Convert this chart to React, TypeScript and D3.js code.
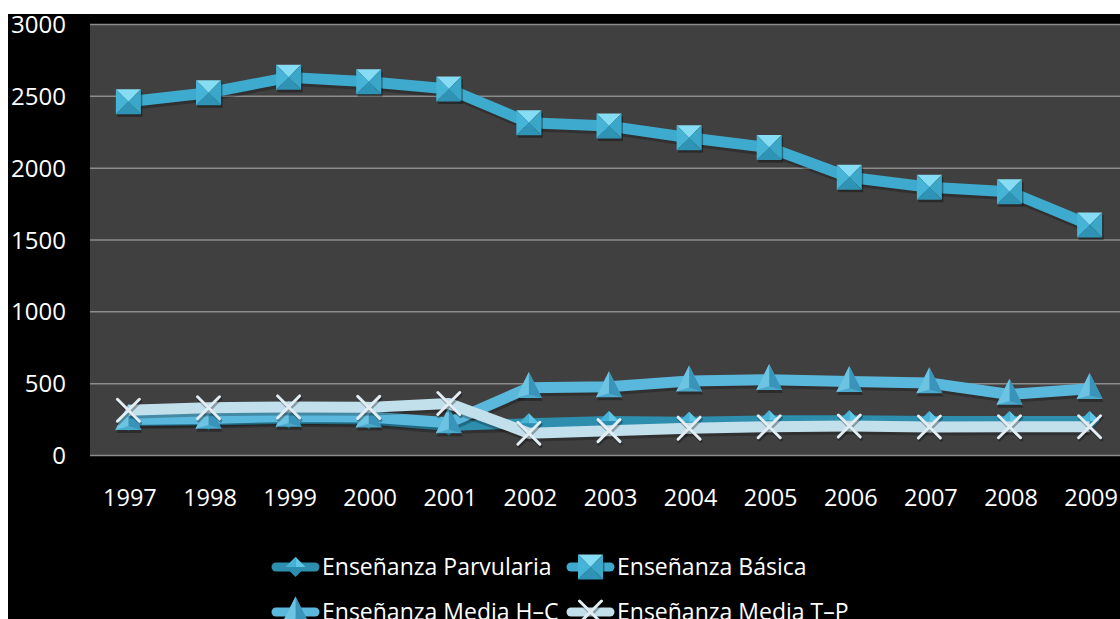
import React from "react";
import * as d3 from "d3";

const years = ["1997","1998","1999","2000","2001","2002","2003","2004","2005","2006","2007","2008","2009"];
const parvularia = [240, 245, 255, 250, 205, 225, 240, 235, 245, 245, 240, 240, 240];
const basica = [2462, 2525, 2632, 2602, 2551, 2316, 2293, 2212, 2143, 1937, 1867, 1836, 1605];
const mediaHC = [250, 258, 272, 268, 228, 472, 478, 518, 528, 515, 505, 425, 465];
const mediaTP = [315, 332, 338, 335, 362, 155, 173, 190, 200, 205, 198, 200, 200];
const yTicks = [0, 500, 1000, 1500, 2000, 2500, 3000];
const seriesNames = ["Enseñanza Parvularia", "Enseñanza Básica", "Enseñanza Media H–C", "Enseñanza Media T–P"];

const W = 1120, H = 619;
const plotL = 90, plotR = 1120, plotT = 24.5, plotB = 455.5;
const font = "'Open Sans', 'DejaVu Sans', sans-serif";

type Kind = "diamond" | "square" | "triangle" | "x";

function Marker({ kind, x, y }: { kind: Kind; x: number; y: number }) {
  if (kind === "square") {
    const s = 12.5;
    return (
      <g transform={`translate(${x},${y})`}>
        <rect x={-s + 1.5} y={-s + 2.5} width={2 * s} height={2 * s} fill="#000" opacity={0.35} />
        <path d={`M${-s},${-s}L${s},${-s}L0,0Z`} fill="#86dcf2" />
        <path d={`M${s},${-s}L${s},${s}L0,0Z`} fill="#3aa6c8" />
        <path d={`M${-s},${s}L${s},${s}L0,0Z`} fill="#2f93b5" />
        <path d={`M${-s},${-s}L${-s},${s}L0,0Z`} fill="#46b4d6" />
      </g>
    );
  }
  if (kind === "triangle") {
    const w = 13, h = 26;
    return (
      <g transform={`translate(${x},${y})`}>
        <path d={`M0,${-h * 0.6 + 2}L${w + 1},${h * 0.4 + 3}L${-w + 1},${h * 0.4 + 3}Z`} fill="#000" opacity={0.3} />
        <path d={`M0,${-h * 0.6}L${w},${h * 0.4}L${-w},${h * 0.4}Z`} fill="#4aa9cc" />
        <path d={`M0,${-h * 0.6}L${w},${h * 0.4}L0,${h * 0.25}Z`} fill="#3a93b8" />
        <path d={`M0,${-h * 0.6}L${-w},${h * 0.4}L0,${h * 0.25}Z`} fill="#6cc3e2" />
      </g>
    );
  }
  if (kind === "diamond") {
    const s = 10;
    return (
      <g transform={`translate(${x},${y})`}>
        <path d={`M0,${-s}L${s},0L0,${s}L${-s},0Z`} fill="#2b8db0" />
        <path d={`M0,${-s}L${s},0L0,0Z`} fill="#5fc6e6" />
        <path d={`M0,${-s}L${-s},0L0,0Z`} fill="#46b2d6" />
      </g>
    );
  }
  const s = 11;
  return (
    <g transform={`translate(${x},${y})`} strokeLinecap="round">
      <path d={`M${-s},${-s}L${s},${s}M${s},${-s}L${-s},${s}`} stroke="#000" strokeOpacity={0.3} strokeWidth={3.5} transform="translate(1,2)" />
      <path d={`M${-s},${-s}L${s},${s}M${s},${-s}L${-s},${s}`} stroke="#e2eef4" strokeWidth={3} />
    </g>
  );
}

const series: { name: string; values: number[]; color: string; width: number; kind: Kind }[] = [
  { name: seriesNames[0], values: parvularia, color: "#2d8eae", width: 10, kind: "diamond" },
  { name: seriesNames[1], values: basica, color: "#3eaacd", width: 11, kind: "square" },
  { name: seriesNames[2], values: mediaHC, color: "#5bb8dd", width: 11, kind: "triangle" },
  { name: seriesNames[3], values: mediaTP, color: "#c2dfec", width: 11, kind: "x" },
];

export default function App() {
  const x = d3.scalePoint<string>().domain(years).range([128.4, 1089.6]);
  const y = d3.scaleLinear().domain([0, 3000]).range([plotB, plotT]);
  const line = d3.line<number>().x((_, i) => x(years[i])!).y((d) => y(d));

  const legendItems = [
    { s: series[0], lx: 272, ty: 567 },
    { s: series[1], lx: 567, ty: 567 },
    { s: series[2], lx: 272, ty: 612 },
    { s: series[3], lx: 567, ty: 612 },
  ];

  return (
    <svg width={W} height={H} style={{ position: "absolute", left: 0, top: 0 }}>
      <rect x={0} y={0} width={W} height={H} fill="#fff" />
      <rect x={8} y={14} width={W - 8} height={H - 14} fill="#000" />
      <rect x={plotL} y={plotT} width={plotR - plotL} height={plotB - plotT} fill="#404040" />
      {yTicks.map((t) => (
        <g key={t}>
          <line x1={plotL} x2={plotR} y1={y(t)} y2={y(t)} stroke="#8c8c8c" strokeWidth={1.5} />
          <text x={66} y={y(t)} dy="0.36em" textAnchor="end" fill="#fff" fontFamily={font} fontSize={24}>
            {t}
          </text>
        </g>
      ))}
      {years.map((yr) => (
        <text key={yr} x={x(yr)! + 1.5} y={506} textAnchor="middle" fill="#fff" fontFamily={font} fontSize={23.5}>
          {yr}
        </text>
      ))}
      {series.map((s) => (
        <g key={s.name}>
          <path d={line(s.values)!} fill="none" stroke="#000" strokeOpacity={0.25} strokeWidth={s.width} transform="translate(1,3)" strokeLinejoin="round" />
          <path d={line(s.values)!} fill="none" stroke={s.color} strokeWidth={s.width} strokeLinejoin="round" />
          {s.values.map((v, i) => (
            <Marker key={i} kind={s.kind} x={x(years[i])!} y={y(v)} />
          ))}
        </g>
      ))}
      {legendItems.map(({ s, lx, ty }) => (
        <g key={s.name}>
          <line x1={lx + 4} x2={lx + 43} y1={ty} y2={ty} stroke={s.color} strokeWidth={9} strokeLinecap="round" />
          <Marker kind={s.kind} x={lx + 23.5} y={ty} />
          <text x={lx + 50} y={ty} dy="0.36em" fill="#fff" fontFamily={font} fontSize={23}>
            {s.name}
          </text>
        </g>
      ))}
    </svg>
  );
}
